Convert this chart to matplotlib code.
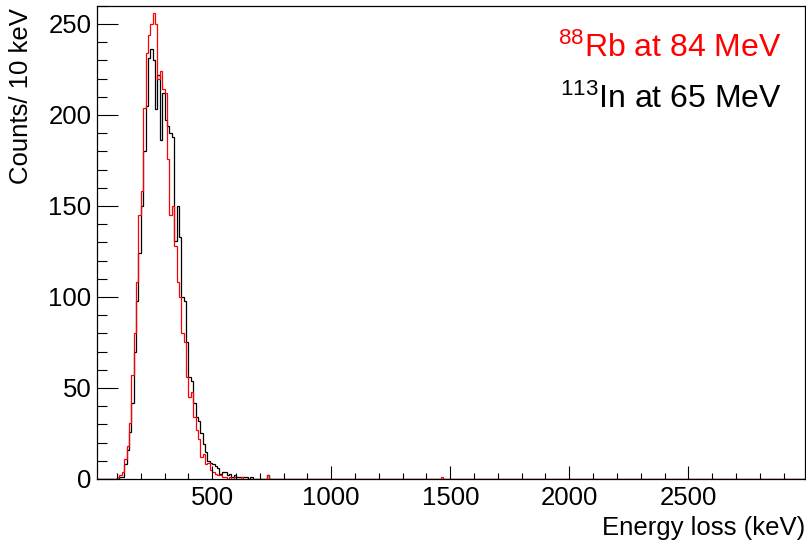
import numpy as np
import matplotlib
matplotlib.use("Agg")
import matplotlib.pyplot as plt
from matplotlib.ticker import MultipleLocator

plt.rcParams["font.family"] = ["Liberation Sans", "DejaVu Sans"]
plt.rcParams["mathtext.fontset"] = "custom"
plt.rcParams["mathtext.rm"] = "Liberation Sans"
plt.rcParams["mathtext.default"] = "regular"

# Histogram binning (keV)
bin_width = 10
e_low = 0
e_high = 3000
first_filled = 100  # energy of the first bin listed below

# 88Rb at 84 MeV, counts per 10 keV bin starting at 100 keV
rb_counts = [1, 2, 4, 11, 18, 31, 57, 80, 108, 145,
             158, 204, 234, 244, 250, 256, 250, 220, 224, 214,
             212, 176, 145, 150, 128, 108, 100, 80, 75, 56,
             45, 48, 34, 27, 22, 12, 14, 8, 9, 5,
             4, 3, 2, 2, 1, 1, 0, 1, 0, 1,
             0, 0, 1, 0, 0, 0, 0, 0, 0, 0,
             0, 0, 0, 2, 0]
rb_isolated = {1460: 1}

# 113In at 65 MeV, counts per 10 keV bin starting at 100 keV
in_counts = [0, 1, 1, 8, 16, 26, 42, 70, 98, 124,
             150, 180, 205, 231, 236, 230, 203, 222, 186, 212,
             197, 194, 190, 188, 131, 150, 133, 100, 98, 75,
             56, 54, 42, 34, 32, 25, 19, 15, 10, 9,
             8, 7, 6, 3, 4, 4, 2, 3, 1, 2,
             1, 1, 1, 1, 1, 0, 1, 0, 0, 0,
             0, 0, 0, 2, 0]
in_isolated = {}

x_ticks_major = 500
x_ticks_minor = 100
y_ticks_major = 50
y_ticks_minor = 10


def fill_hist(counts, isolated):
    edges = np.arange(e_low, e_high + bin_width, bin_width)
    vals = np.zeros(len(edges) - 1)
    i0 = (first_filled - e_low) // bin_width
    vals[i0:i0 + len(counts)] = counts
    for e, c in isolated.items():
        vals[(e - e_low) // bin_width] += c
    return edges, vals


W, H = 806, 545
fig = plt.figure(figsize=(W / 100, H / 100), dpi=100)
ax = fig.add_axes([97 / W, 1 - 479 / H, (804.5 - 97) / W, (479 - 5.7) / H])

edges, v_in = fill_hist(in_counts, in_isolated)
ax.stairs(v_in, edges, color="black", lw=0.9, baseline=None)
edges, v_rb = fill_hist(rb_counts, rb_isolated)
ax.stairs(v_rb, edges, color="#ff0000", lw=0.9, baseline=None)

ax.set_xlim(16, 2988)
ax.set_ylim(0, 260)

ax.xaxis.set_major_locator(MultipleLocator(x_ticks_major))
ax.xaxis.set_minor_locator(MultipleLocator(x_ticks_minor))
ax.yaxis.set_major_locator(MultipleLocator(y_ticks_major))
ax.yaxis.set_minor_locator(MultipleLocator(y_ticks_minor))

ax.tick_params(axis="both", which="both", direction="in", width=0.8,
               top=False, right=False, labelsize=18.5, colors="black")
ax.tick_params(axis="x", which="major", length=9.4, pad=5)
ax.tick_params(axis="x", which="minor", length=4.6)
ax.tick_params(axis="y", which="major", length=15, pad=4)
ax.tick_params(axis="y", which="minor", length=7.2)
for s in ax.spines.values():
    s.set_linewidth(0.9)

fig.text(21 / W, 1 - 8 / H, "Counts/ 10 keV", rotation=90, ha="center",
         va="top", fontsize=18.5)
fig.text(805 / W, 1 - 528 / H, "Energy loss (keV)", ha="right",
         va="center", fontsize=18.5)

fig.text(782 / W, 1 - 57 / H, r"$^{88}$Rb at 84 MeV", color="#ff0000",
         ha="right", va="baseline", fontsize=23)
fig.text(782 / W, 1 - 108 / H, r"$^{113}$In at 65 MeV", color="black",
         ha="right", va="baseline", fontsize=23)

fig.savefig("out.png", dpi=100)
